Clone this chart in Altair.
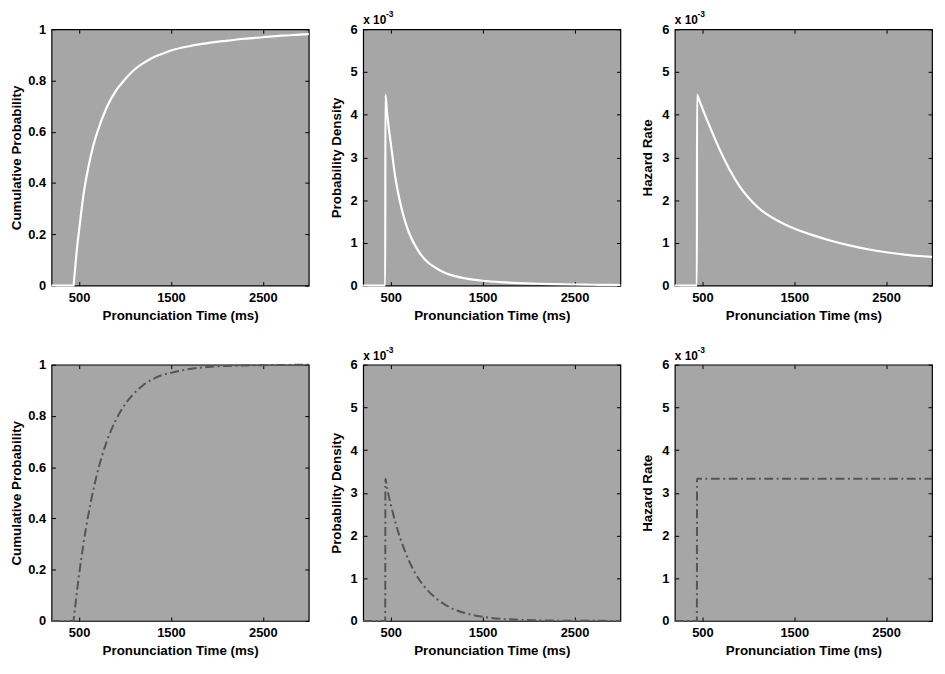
import altair as alt
import pandas as pd

# ---------------- data ----------------
time_ms = [200, 440, 442, 460, 480, 500, 550, 600, 650, 700, 800, 900, 1000,
           1100, 1200, 1300, 1400, 1500, 1700, 1900, 2100, 2300, 2500, 2700,
           2900, 3000]

# top row (white solid curves)
cdf_top = [0, 0, 0.008, 0.08, 0.155, 0.215, 0.36, 0.46, 0.54, 0.60, 0.695,
           0.76, 0.805, 0.842, 0.868, 0.889, 0.904, 0.917, 0.934, 0.946,
           0.955, 0.963, 0.969, 0.975, 0.979, 0.981]
pdf_top = [0, 0, 4.47, 4.05, 3.66, 3.34, 2.53, 1.97, 1.55, 1.23, 0.81, 0.55,
           0.40, 0.29, 0.22, 0.17, 0.137, 0.112, 0.078, 0.056, 0.042, 0.031,
           0.024, 0.018, 0.014, 0.013]          # x 10^-3
haz_top = [0, 0, 4.47, 4.37, 4.26, 4.15, 3.88, 3.62, 3.37, 3.13, 2.70, 2.34,
           2.06, 1.84, 1.67, 1.54, 1.43, 1.335, 1.18, 1.05, 0.94, 0.85, 0.78,
           0.725, 0.685, 0.67]                  # x 10^-3

# bottom row (dark dash-dot curves)
cdf_bot = [0, 0, 0.007, 0.064, 0.125, 0.181, 0.307, 0.413, 0.503, 0.580,
           0.699, 0.784, 0.845, 0.889, 0.921, 0.943, 0.959, 0.968, 0.983,
           0.991, 0.995, 0.997, 0.998, 0.999, 0.9995, 0.9997]
pdf_bot = [0, 0, 3.33, 3.12, 2.91, 2.73, 2.31, 1.96, 1.66, 1.40, 1.00, 0.72,
           0.52, 0.37, 0.26, 0.19, 0.135, 0.097, 0.05, 0.026, 0.013, 0.007,
           0.0035, 0.002, 0.001, 0.0006]        # x 10^-3
haz_bot = [0, 0, 3.33, 3.33, 3.33, 3.33, 3.33, 3.33, 3.33, 3.33, 3.33, 3.33,
           3.33, 3.33, 3.33, 3.33, 3.33, 3.33, 3.33, 3.33, 3.33, 3.33, 3.33,
           3.33, 3.33, 3.33]                    # x 10^-3

x_ticks = [500, 1500, 2500]
x_domain = [200, 3000]
cdf_ticks = [0, 0.2, 0.4, 0.6, 0.8, 1]
dens_ticks = [0, 1, 2, 3, 4, 5, 6]
x_title = "Pronunciation Time (ms)"

# ---------------- styling ----------------
FONT = "Liberation Sans"
BG = "#a6a6a6"
W, H = 260, 259
TICK = 4

white_line = dict(color="white", strokeWidth=2.2, interpolate="monotone")
dash_line = dict(color="#555555", strokeWidth=2, strokeDash=[9, 3.5, 2, 3.5],
                 interpolate="monotone")


def axis_common(**kw):
    base = dict(domain=False, grid=False, tickColor="black", tickSize=TICK,
                tickWidth=1, offset=-TICK, minExtent=0, labelFont=FONT,
                labelFontSize=13, labelFontWeight="bold", labelColor="black",
                titleFont=FONT, titleFontSize=13.5, titleFontWeight="bold",
                titleColor="black")
    base.update(kw)
    return alt.Axis(**base)


def panel(values, ytitle, kind, style, ytp, sci):
    df = pd.DataFrame({"t": time_ms, "v": values})
    if kind == "cdf":
        ydom, yt = [0, 1], cdf_ticks
        lab = "datum.value == 0 ? '0' : datum.value == 1 ? '1' : format(datum.value, '.1f')"
    else:
        ydom, yt = [0, 6], dens_ticks
        lab = "format(datum.value, 'd')"
    xs = alt.Scale(domain=x_domain, nice=False, zero=False)
    ys = alt.Scale(domain=ydom, nice=False, zero=False)

    main = alt.Chart(df).mark_line(strokeCap="butt", **style).encode(
        x=alt.X("t:Q", scale=xs,
                axis=axis_common(values=x_ticks, title=x_title, format="d",
                                 labelPadding=6, titlePadding=4)),
        y=alt.Y("v:Q", scale=ys,
                axis=axis_common(values=yt, title=ytitle, labelExpr=lab,
                                 labelPadding=6, titlePadding=ytp)),
        order="t:Q",
    )
    mirror = alt.Chart(df).mark_line(opacity=0).encode(
        x=alt.X("t:Q", scale=xs,
                axis=axis_common(values=x_ticks, orient="top", labels=False,
                                 title=None)),
        y=alt.Y("v:Q", scale=ys,
                axis=axis_common(values=yt, orient="right", labels=False,
                                 title=None)),
    )
    layers = [mirror, main]
    if sci:
        tdf = pd.DataFrame({"a": ["x 10"], "b": ["-3"]})
        t1 = alt.Chart(tdf).mark_text(align="left", baseline="alphabetic",
                                      font=FONT, fontSize=12, fontWeight="bold",
                                      color="black").encode(
            x=alt.value(0), y=alt.value(-5), text="a:N")
        t2 = alt.Chart(tdf).mark_text(align="left", baseline="alphabetic",
                                      font=FONT, fontSize=8.5, fontWeight="bold",
                                      color="black").encode(
            x=alt.value(23), y=alt.value(-12), text="b:N")
        layers += [t1, t2]
    return alt.layer(*layers).resolve_axis(x="independent", y="independent").properties(
        width=W, height=H)


p11 = panel(cdf_top, "Cumulative Probability", "cdf", white_line, 4.5, False)
p12 = panel(pdf_top, "Probability Density", "dens", white_line, 7, True)
p13 = panel(haz_top, "Hazard Rate", "dens", white_line, 7, True)
p21 = panel(cdf_bot, "Cumulative Probability", "cdf", dash_line, 4.5, False)
p22 = panel(pdf_bot, "Probability Density", "dens", dash_line, 7, True)
p23 = panel(haz_bot, "Hazard Rate", "dens", dash_line, 7, True)

chart = alt.concat(p11, p12, p13, p21, p22, p23, columns=3,
                   spacing={"row": 80, "column": 55}, bounds="flush").properties(
    padding={"left": 0, "top": -2, "right": 0, "bottom": 0},
    background="white",
).configure_view(fill=BG, stroke="black", strokeWidth=1.2)

chart.save("out.html", embed_options={"renderer": "svg", "actions": False})
